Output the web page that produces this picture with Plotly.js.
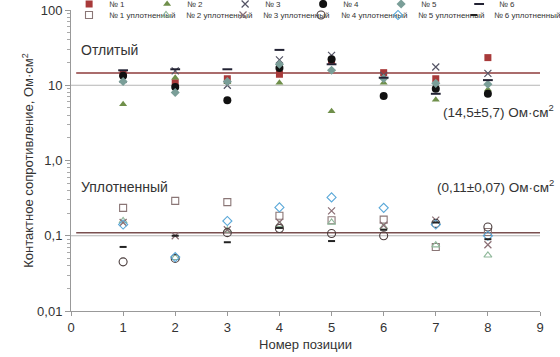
<!DOCTYPE html>
<html>
<head>
<meta charset="utf-8">
<script src="https://cdn.plot.ly/plotly-3.0.1.min.js"></script>
<style>html,body{margin:0;padding:0;background:#fff;}#chart{width:560px;height:357px;}</style>
</head>
<body>
<div id="chart"></div>
<script>
// Positions
const positions = [1, 2, 3, 4, 5, 6, 7, 8];
// Cast (Отлитый), Ohm·cm²
const cast1 = [14.3, 10.8, 12.2, 14.0, 21.0, 14.7, 12.2, 23.3];
const cast2 = [5.6, 12.6, 11.0, 10.8, 4.5, 10.8, 6.4, 8.8];
const cast3 = [12.0, 15.5, 10.0, 21.7, 25.0, 13.5, 17.5, 14.4];
const cast4 = [13.4, 9.5, 6.3, 16.9, 22.2, 7.2, 9.0, 7.7];
const cast5 = [11.2, 8.0, 11.2, 19.0, 15.8, 12.3, 10.6, 10.3];
const cast6 = [15.8, 16.3, 16.3, 29.5, 19.0, 12.6, 7.7, 11.7];
// Pressed (Уплотненный), Ohm·cm²
const pressed1 = [0.235, 0.291, 0.280, 0.184, 0.161, 0.164, 0.071, 0.112];
const pressed2 = [0.157, 0.051, 0.118, 0.140, 0.150, 0.130, 0.075, 0.055];
const pressed3 = [0.150, 0.100, 0.120, 0.151, 0.214, 0.138, 0.161, 0.076];
const pressed4 = [0.045, 0.050, 0.110, 0.125, 0.107, 0.100, 0.146, 0.131];
const pressed5 = [0.141, 0.052, 0.157, 0.238, 0.323, 0.235, 0.141, 0.100];
const pressed6 = [0.071, 0.100, 0.082, 0.127, 0.085, 0.120, 0.150, 0.090];
// Means
const meanX = [0.1, 9];
const meanCast = [14.5, 14.5];
const meanPressed = [0.11, 0.11];
const yTickVals = [0.01, 0.1, 1, 10, 100];
const yTickText = ['0,01', '0,1', '1,0', '10', '100'];
const xTickVals = [0, 1, 2, 3, 4, 5, 6, 7, 8, 9];
const minorMult = [2, 3, 4, 5, 6, 7, 8, 9];
const minorVals = [];
[0.01, 0.1, 1, 10].forEach(d => minorMult.forEach(m => minorVals.push(d * m)));

function tr(name, y, symbol, color, size, lw, lcolor, legend) {
  return {
    type: 'scatter', mode: 'markers', x: positions, y: y, name: name,
    legend: legend,
    marker: {symbol: symbol, color: color, size: size,
             line: {width: lw, color: lcolor || color}},
    hoverinfo: 'x+y'
  };
}

const traces = [
  {type:'scatter', mode:'lines', x: meanX, y: meanCast, line:{color:'#8e3b3b', width:1.5}, showlegend:false, hoverinfo:'skip'},
  {type:'scatter', mode:'lines', x: meanX, y: meanPressed, line:{color:'#7a5050', width:1.5}, showlegend:false, hoverinfo:'skip'},
  tr('№ 1', cast1, 'square', '#a83a3a', 7, 0, null, 'legend'),
  tr('№ 2', cast2, 'triangle-up', '#6f8f4a', 7, 0, null, 'legend'),
  tr('№ 3', cast3, 'x-thin-open', '#555566', 7, 1.2, '#555566', 'legend'),
  tr('№ 4', cast4, 'circle', '#111111', 8, 0, null, 'legend'),
  tr('№ 5', cast5, 'diamond', '#7a9e98', 7, 0, null, 'legend'),
  tr('№ 6', cast6, 'line-ew', '#222233', 7, 2, '#222233', 'legend'),
  tr('№ 1 уплотненный', pressed1, 'square-open', '#8a7676', 7, 1.1, null, 'legend2'),
  tr('№ 2 уплотненный', pressed2, 'triangle-up-open', '#8fb89a', 7, 1.1, null, 'legend3'),
  tr('№ 3 уплотненный', pressed3, 'x-thin-open', '#8a6e74', 7, 1.2, '#8a6e74', 'legend4'),
  tr('№ 4 уплотненный', pressed4, 'circle-open', '#4a3c3c', 8, 1.1, null, 'legend5'),
  tr('№ 5 уплотненный', pressed5, 'diamond-open', '#5aa8d8', 7, 1.1, null, 'legend6'),
  tr('№ 6 уплотненный', pressed6, 'line-ew', '#222222', 5, 2, '#222222', 'legend7')
];

const font = {family: 'Liberation Sans, Arial, sans-serif', color: '#333333'};
const legendCommon = {
  orientation: 'h', xanchor: 'left', yanchor: 'middle', x: 0,
  font: {family: font.family, size: 8, color: '#333333'},
  bgcolor: 'rgba(0,0,0,0)', borderwidth: 0, itemwidth: 30, tracegroupgap: 0
};

const layout = {
  width: 560, height: 357,
  margin: {l: 71, r: 20, t: 10, b: 46, autoexpand: false},
  paper_bgcolor: '#ffffff', plot_bgcolor: '#ffffff',
  font: font,
  showlegend: true,
  legend: Object.assign({}, legendCommon, {y: 1.02, x: -0.004, entrywidth: 33, entrywidthmode: 'pixels'}),
  xaxis: {
    range: [0, 9], tickvals: xTickVals, ticktext: xTickVals.map(String),
    showgrid: false, zeroline: false, showline: true, linecolor: '#999999', linewidth: 1,
    ticks: 'outside', ticklen: 4, tickcolor: '#999999',
    tickfont: {size: 13, color: '#333333'},
    title: {text: 'Номер позиции', font: {size: 13, color: '#333333'}, standoff: 6}
  },
  yaxis: {
    type: 'log', range: [-2, 2], tickvals: yTickVals, ticktext: yTickText,
    showgrid: false, zeroline: false, showline: true, linecolor: '#999999', linewidth: 1,
    ticks: 'outside', ticklen: 5, tickcolor: '#999999',
    tickfont: {size: 13, color: '#333333'},
    minor: {ticks: 'outside', ticklen: 3, tickcolor: '#aaaaaa', tickvals: minorVals, showgrid: false},
    title: {text: 'Контактное сопротивление, Ом·см<sup>2</sup>', font: {size: 13, color: '#333333'}, standoff: 0}
  },
  shapes: [
    {type: 'line', xref: 'paper', x0: 0, x1: 1, yref: 'y', y0: 10, y1: 10, line: {color: '#b5b5b5', width: 1}, layer: 'below'},
    {type: 'line', xref: 'paper', x0: 0, x1: 1, yref: 'y', y0: 0.1, y1: 0.1, line: {color: '#b5b5b5', width: 1}, layer: 'below'}
  ],
  annotations: [
    {xref: 'paper', yref: 'paper', x: 0.016, y: 0.868, xanchor: 'left', yanchor: 'middle', showarrow: false, text: 'Отлитый', font: {size: 14, color: '#333333'}},
    {xref: 'paper', yref: 'paper', x: 0.016, y: 0.412, xanchor: 'left', yanchor: 'middle', showarrow: false, text: 'Уплотненный', font: {size: 14, color: '#333333'}},
    {xref: 'paper', yref: 'paper', x: 1.035, y: 0.663, xanchor: 'right', yanchor: 'middle', showarrow: false, text: '(14,5±5,7) Ом·см<sup>2</sup>', font: {size: 13.5, color: '#333333'}},
    {xref: 'paper', yref: 'paper', x: 1.035, y: 0.415, xanchor: 'right', yanchor: 'middle', showarrow: false, text: '(0,11±0,07) Ом·см<sup>2</sup>', font: {size: 13.5, color: '#333333'}}
  ]
};
// one legend per "уплотненный" entry so that long names are not clipped
const pressedLegendMarkerPx = [89, 166, 243, 321, 398, 474];
pressedLegendMarkerPx.forEach((px, i) => {
  layout['legend' + (i + 2)] = Object.assign({}, legendCommon, {y: 0.9834, x: (px - 20 - 71) / 469});
});

Plotly.newPlot('chart', traces, layout, {displayModeBar: false, responsive: false});
</script>
</body>
</html>
